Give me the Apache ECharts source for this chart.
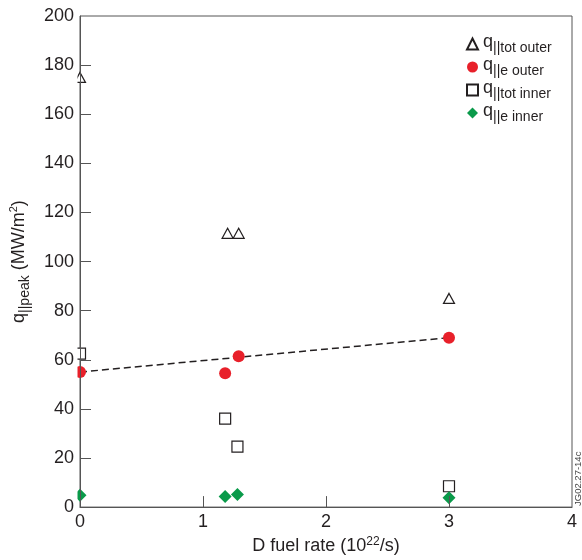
<!DOCTYPE html>
<html><head><meta charset="utf-8">
<script src="https://cdn.jsdelivr.net/npm/echarts@6/dist/echarts.min.js"></script>
<style>html,body{margin:0;padding:0;background:#fff}#c{width:582px;height:560px}</style>
</head><body><div id="c"></div>
<script>
// Data
const totOuter = [[0, 175], [1.2, 111.5], [1.29, 111.5], [3, 85]];
const eOuter   = [[0, 55], [1.18, 54.5], [1.29, 61.4], [3, 69]];
const totInner = [[0, 62.5], [1.18, 36], [1.28, 24.6], [3, 8.5]];
const eInner   = [[0, 4.8], [1.18, 4.3], [1.28, 5.1], [3, 3.8]];
const fitLine  = [[0, 55], [3, 69]];
const xTicks = [0, 1, 2, 3, 4];
const yTicks = [0, 20, 40, 60, 80, 100, 120, 140, 160, 180, 200];
const seriesNames = ['tot outer', 'e outer', 'tot inner', 'e inner'];

const FONT = 'Liberation Sans, Arial, sans-serif';
const TXT = '#231f20';
const AX = '#555';
const chart = echarts.init(document.getElementById('c'));
const hollow = {color: '#fff', borderColor: TXT, borderWidth: 1.2, opacity: 1};

chart.setOption({
  animation: false,
  textStyle: {fontFamily: FONT, color: TXT},
  grid: {left: 78, right: 10, top: 16, bottom: 49, show: true, borderColor: AX, borderWidth: 1, backgroundColor: 'transparent'},
  legend: {
    orient: 'vertical', left: 461, top: 28, itemWidth: 11, itemHeight: 11, itemGap: 1,
    data: seriesNames,
    formatter: n => '{q|q}{s|||' + n + '}',
    textStyle: {
      rich: {
        q: {fontSize: 18, fontFamily: FONT, color: TXT, verticalAlign: 'bottom', padding: [0, 0, 4, 0]},
        s: {fontSize: 14, fontFamily: FONT, color: TXT, verticalAlign: 'bottom'}
      }
    }
  },
  xAxis: {
    type: 'value', min: xTicks[0], max: xTicks[xTicks.length - 1], interval: 1, z: 10,
    axisLine: {onZero: false, lineStyle: {color: AX, width: 1}},
    axisTick: {inside: true, length: 11, lineStyle: {color: AX}, customValues: xTicks.slice(1, -1)},
    axisLabel: {fontSize: 18, color: TXT, fontFamily: FONT, margin: 6},
    splitLine: {show: false},
    name: '{a|D fuel rate (10}{b|22}{a|/s)}', nameLocation: 'middle', nameGap: 27,
    nameTextStyle: {rich: {
      a: {fontSize: 18, fontFamily: FONT, color: TXT, verticalAlign: 'bottom'},
      b: {fontSize: 12, fontFamily: FONT, color: TXT, verticalAlign: 'bottom', padding: [0, 0, 7, 0]}
    }}
  },
  yAxis: {
    type: 'value', min: yTicks[0], max: yTicks[yTicks.length - 1], interval: 20, z: 10,
    axisLine: {show: true, lineStyle: {color: AX, width: 1}},
    axisTick: {show: true, inside: true, length: 11, lineStyle: {color: AX}, customValues: yTicks.slice(1, -1)},
    axisLabel: {fontSize: 18, color: TXT, fontFamily: FONT, margin: 6},
    splitLine: {show: false},
    name: '{a|q}{s|||peak}{a| (MW/m}{b|2}{a|)}', nameLocation: 'middle', nameGap: 48,
    nameTextStyle: {rich: {
      a: {fontSize: 18, fontFamily: FONT, color: TXT, verticalAlign: 'bottom', padding: [0, 0, 4, 0]},
      s: {fontSize: 14, fontFamily: FONT, color: TXT, verticalAlign: 'bottom'},
      b: {fontSize: 11, fontFamily: FONT, color: TXT, verticalAlign: 'bottom', padding: [0, 0, 13, 0]}
    }}
  },
  graphic: [
    {type: 'rect', left: 0, top: 0, shape: {width: 77.5, height: 560}, style: {fill: '#fff'}, z: 5},
    {type: 'text', x: 573, y: 506, rotation: Math.PI / 2, z: 20,
     style: {text: 'JG02.27-14c', fontSize: 9.5, fontFamily: FONT, fill: '#444'}}
  ],
  series: [
    {name: 'dash', type: 'line', data: fitLine, symbol: 'none', z: 1,
     lineStyle: {color: TXT, width: 1.5, type: [7, 4]}, silent: true},
    {name: seriesNames[0], type: 'scatter', data: totOuter, symbol: 'triangle', symbolSize: [11, 10], itemStyle: hollow},
    {name: seriesNames[1], type: 'scatter', data: eOuter, symbol: 'circle', symbolSize: 12, itemStyle: {color: '#e8202a', opacity: 1}},
    {name: seriesNames[2], type: 'scatter', data: totInner, symbol: 'rect', symbolSize: 11, itemStyle: hollow},
    {name: seriesNames[3], type: 'scatter', data: eInner, symbol: 'diamond', symbolSize: [13, 13], itemStyle: {color: '#0a9a4a', opacity: 1}}
  ]
});
</script></body></html>
